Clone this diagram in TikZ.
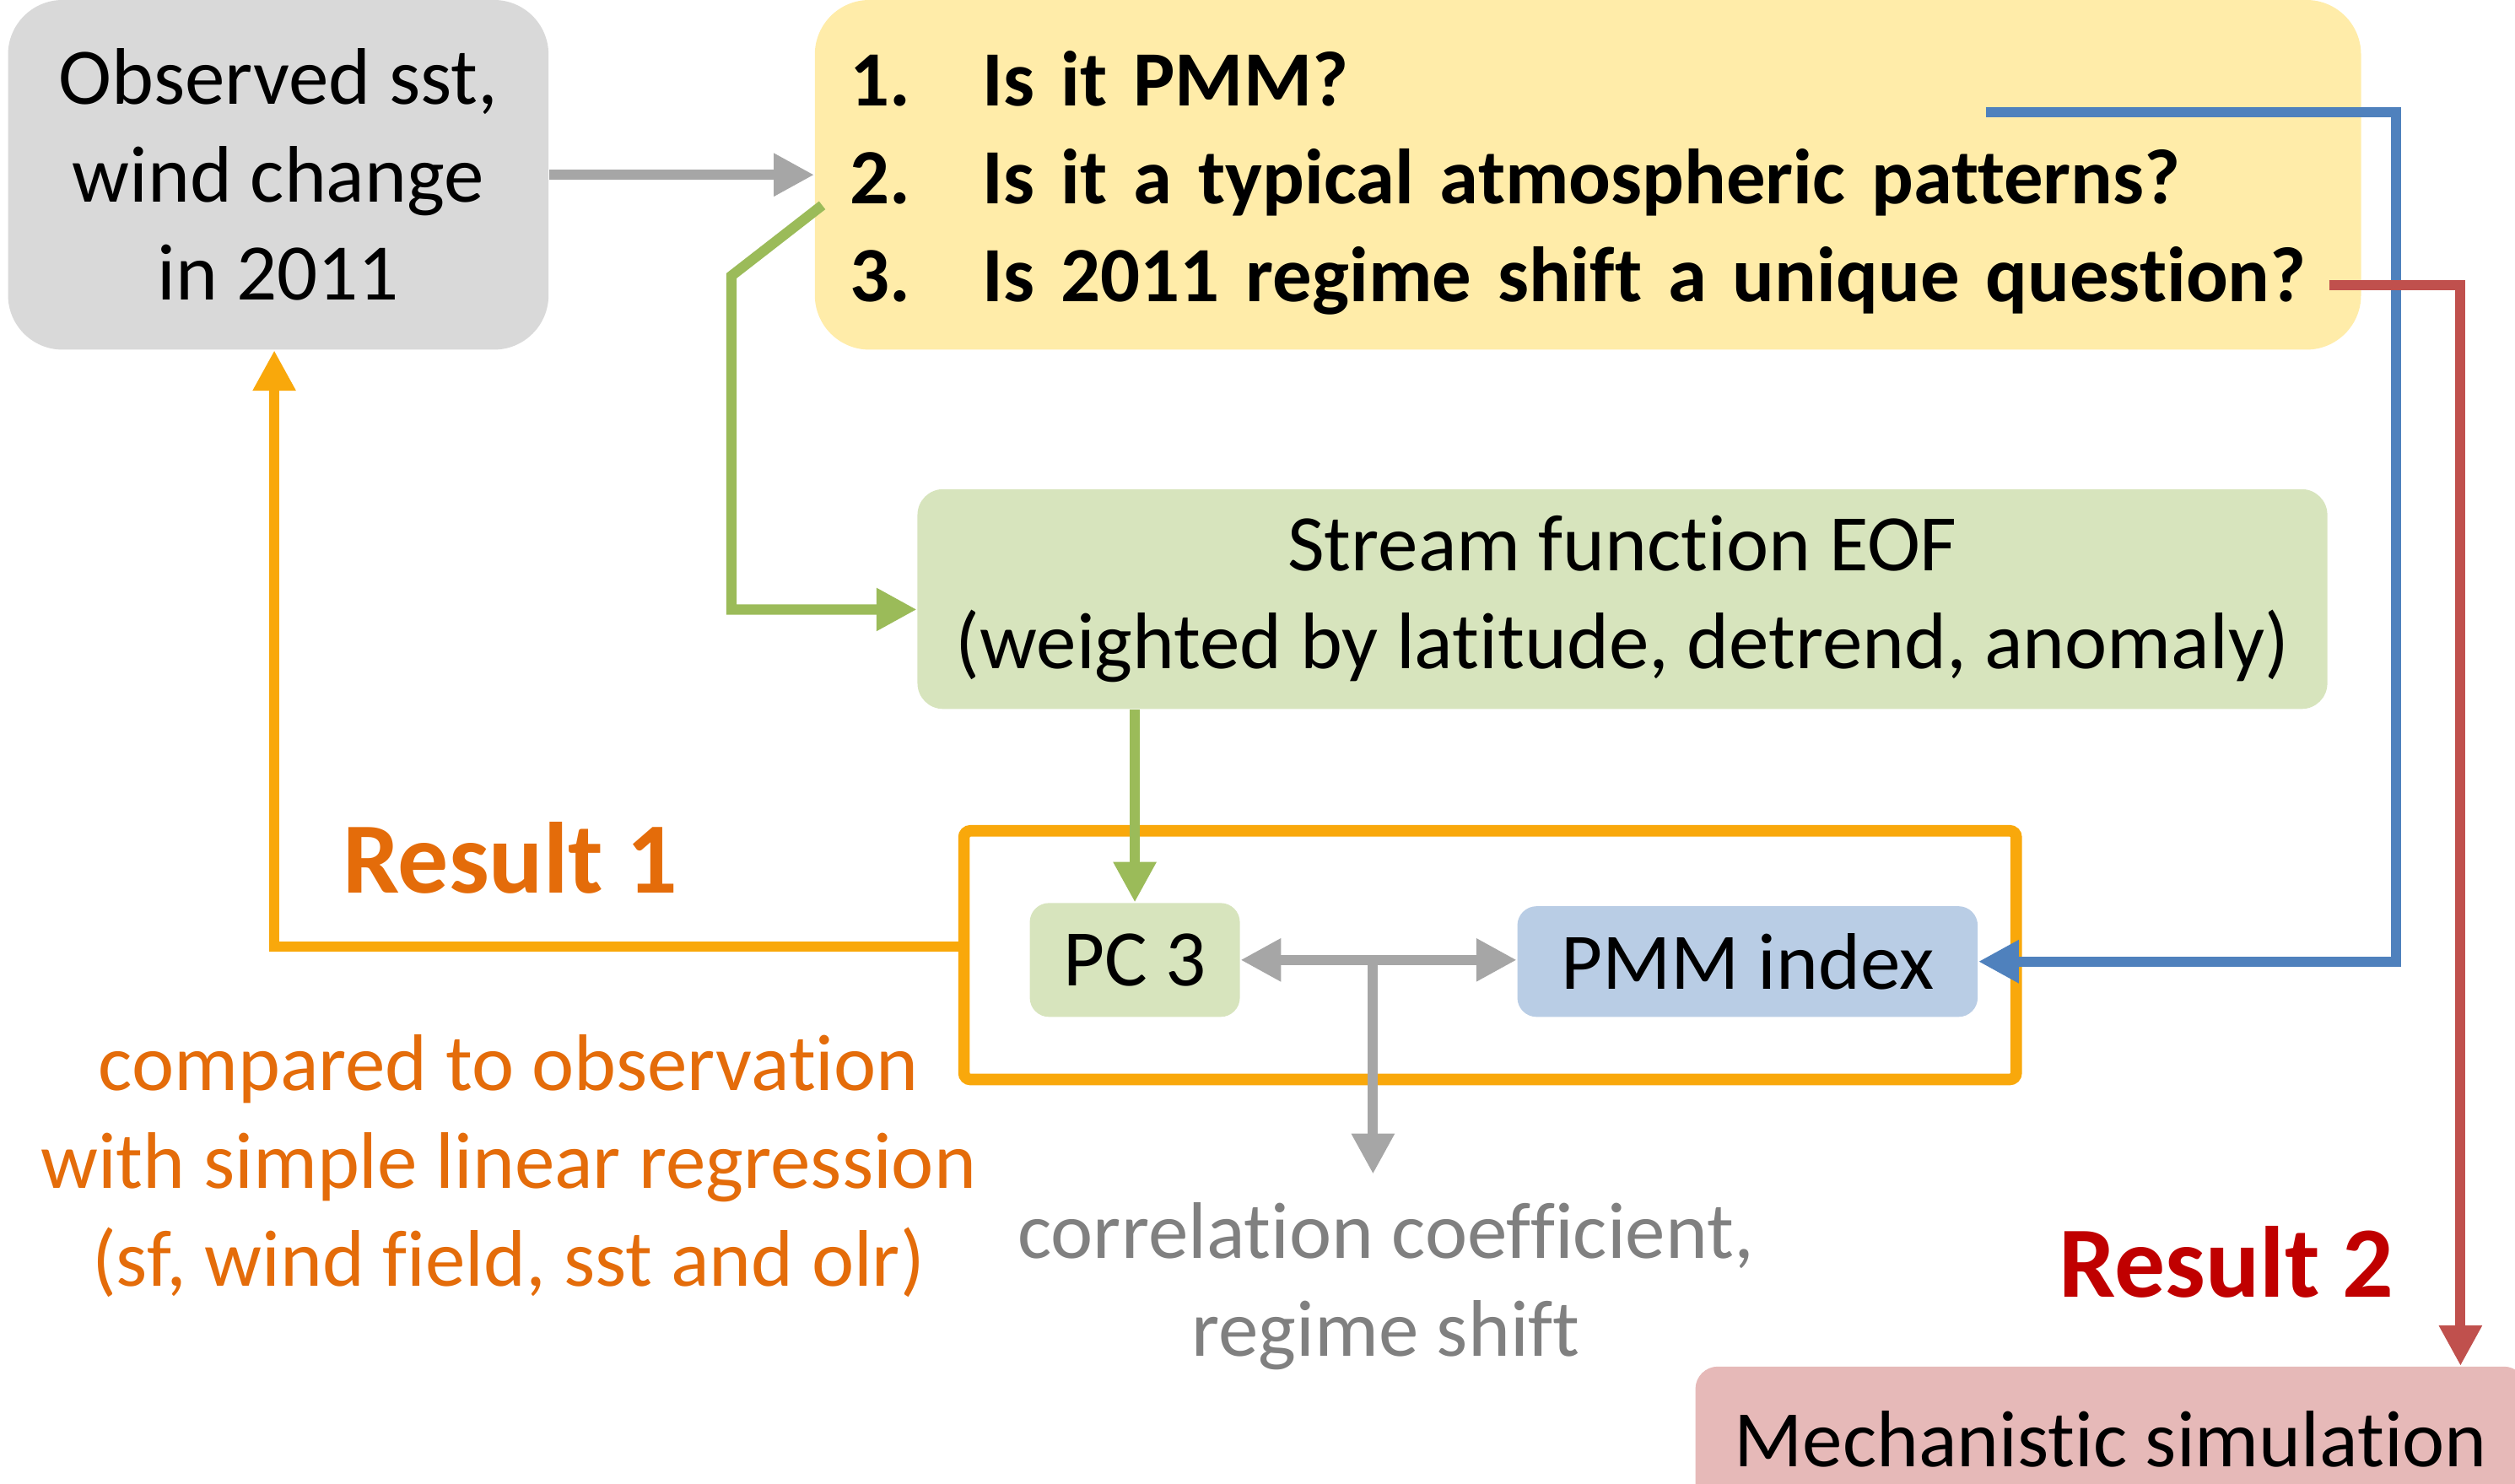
\documentclass[tikz,border=0pt]{standalone}
\usepackage{fontspec}
\setmainfont{Carlito}[Ligatures=NoCommon]
\usepackage{tikz}
\usetikzlibrary{arrows.meta,positioning,calc}
\definecolor{ObsGray}{HTML}{D9D9D9}
\definecolor{QuestYellow}{HTML}{FFECA9}
\definecolor{EofGreen}{HTML}{D7E4BD}
\definecolor{PmmBlue}{HTML}{B9CDE5}
\definecolor{SimRed}{HTML}{E6B9B8}
\definecolor{LinkGray}{HTML}{A6A6A6}
\definecolor{LinkGreen}{HTML}{9BBB59}
\definecolor{LinkBlue}{HTML}{4F81BD}
\definecolor{LinkRed}{HTML}{C0504D}
\definecolor{FrameOrange}{HTML}{F9A80B}
\definecolor{ResOrange}{HTML}{E46C0A}
\definecolor{ResRed}{HTML}{C00000}
\definecolor{NoteGray}{HTML}{808080}

\begin{document}
\begin{tikzpicture}[x=0.5pt,y=-0.5pt,
  box/.style={rounded corners=8pt,inner sep=0pt,align=center,font=\fontsize{25}{30.5}\selectfont},
  link/.style={line width=3.2pt,-{Triangle[length=12.6pt,width=12.6pt]}},
  note/.style={align=center,font=\fontsize{25}{30.5}\selectfont},
  result/.style={font=\fontsize{31.5}{36}\selectfont\bfseries}]
 \useasboundingbox (0,0) rectangle (1568,925);
 \clip (0,0) rectangle (1568,925);
 % boxes
 \node[box,fill=ObsGray,rounded corners=17pt,minimum width=168.5pt,minimum height=109pt] (obs) at (173.5,109)
   {Observed sst,\\wind change\\in 2011};
 \node[box,fill=QuestYellow,rounded corners=17pt,minimum width=482pt,minimum height=109pt,
   text width=460pt,align=left,font=\fontsize{24.4}{30.5}\selectfont\bfseries] (quest) at (990,109)
   {\raisebox{-3pt}[\height][\depth]{\begin{tabular}{@{}l@{\hspace{22.5pt}}l@{}}
     1. & Is it PMM?\\
     2. & Is it a typical atmospheric patterns?\\
     3. & Is 2011 regime shift a unique question?
    \end{tabular}}};
 \node[box,fill=EofGreen,minimum width=439.5pt,minimum height=68.5pt] (eof) at (1011.5,373.5)
   {Stream function EOF\\(weighted by latitude, detrend, anomaly)};
 \node[box,fill=EofGreen,rounded corners=6pt,minimum width=65.5pt,minimum height=35.5pt] (pc) at (707.5,598.5) {PC 3};
 \node[box,fill=PmmBlue,rounded corners=6pt,minimum width=143.5pt,minimum height=34.5pt] (pmm) at (1089.5,599.5) {PMM index};
 \node[box,fill=SimRed,rounded corners=7pt,minimum width=259pt,minimum height=45pt] (sim) at (1316,897) {Mechanistic simulation};
 % result frame
 \node[draw=FrameOrange,line width=3.6pt,rounded corners=2pt,minimum width=328pt,minimum height=77.5pt] (frame) at (929,595.5) {};
 % labels
 \node[result,text=ResOrange] (res1) at (318,535) {Result 1};
 \node[result,text=ResRed] (res2) at (1388,787) {Result 2};
 \node[note,text=ResOrange] (cmp) at (317,727)
   {compared to observation\\with simple linear regression\\(sf, wind field, sst and olr)};
 \node[note,text=NoteGray] (corr) at (864,802) {correlation coefficient,\\regime shift};
 % bends
 \coordinate (bluestart) at (1238,70);
 \coordinate (blueturn) at (1494,70);
 \coordinate (redstart) at (1452,178);
 \coordinate (redturn) at (1534,178);
 \coordinate (greenkink) at (456,172);
 \coordinate (tee) at (856,600);
 \coordinate (corrtip) at (856,732);
 % connectors
 \draw[link,LinkGray] (obs) -- (quest);
 \draw[link,LinkGreen] ([xshift=2.5pt,yshift=-9.5pt]quest.west) -- (greenkink) |- ([yshift=-3.25pt]eof.west);
 \draw[link,LinkGreen] (eof.south -| pc.north) -- (pc.north);
 \draw[link,LinkBlue] (bluestart) -- (blueturn) |- (pmm.east);
 \draw[link,LinkRed] (redstart) -- (redturn) -- (redturn |- sim.north);
 \draw[link,FrameOrange] ([yshift=2.75pt]frame.west) -| ([xshift=-1.25pt]obs.south);
 \draw[line width=3.2pt,LinkGray,{Triangle[length=12.6pt,width=12.6pt]}-{Triangle[length=12.6pt,width=12.6pt]}]
   (pc.east) -- (pc.east -| pmm.west);
 \draw[link,LinkGray] (tee) -- (corrtip);
\end{tikzpicture}
\end{document}
